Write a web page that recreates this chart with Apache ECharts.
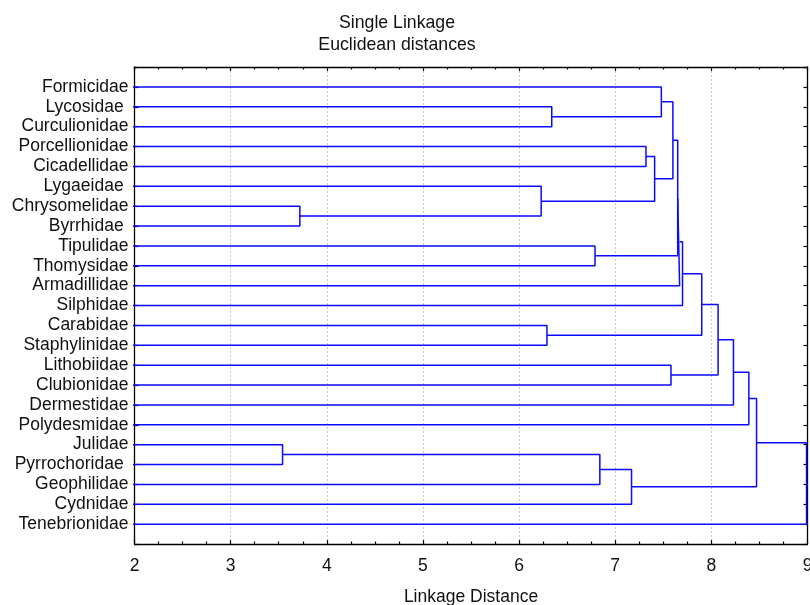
<!DOCTYPE html>
<html>
<head>
<meta charset="utf-8">
<title>Single Linkage</title>
<script src="https://cdn.jsdelivr.net/npm/echarts@6/dist/echarts.min.js"></script>
<style>
  html, body { margin: 0; padding: 0; background: #fff; }
  #chart { width: 810px; height: 605px; }
</style>
</head>
<body>
<div id="chart"></div>
<script>
// leaves, top to bottom (some labels carry a trailing space in the original)
const leafNames = [
  'Formicidae', 'Lycosidae ', 'Curculionidae', 'Porcellionidae', 'Cicadellidae',
  'Lygaeidae ', 'Chrysomelidae', 'Byrrhidae ', 'Tipulidae', 'Thomysidae',
  'Armadillidae', 'Silphidae', 'Carabidae', 'Staphylinidae', 'Lithobiidae',
  'Clubionidae', 'Dermestidae', 'Polydesmidae', 'Julidae', 'Pyrrochoridae ',
  'Geophilidae', 'Cydnidae', 'Tenebrionidae',
];

// merge steps: ids 0..22 are leaves, each merge k makes cluster 23 + k
const mergeLeft = [18, 6, 5, 12, 1, 8, 23, 29, 3, 31, 0, 14, 33, 35, 36, 37, 38, 39, 40, 41, 42, 43];
const mergeRight = [19, 7, 24, 13, 2, 9, 20, 21, 4, 25, 27, 15, 32, 28, 10, 11, 26, 34, 16, 17, 30, 22];
const mergeHeight = [3.54, 3.72, 6.23, 6.29, 6.34, 6.79, 6.84, 7.17, 7.32, 7.41, 7.48, 7.58,
  7.60, 7.65, 7.67, 7.70, 7.90, 8.07, 8.23, 8.39, 8.47, 8.99];

const xTicks = [2, 3, 4, 5, 6, 7, 8, 9];

const font = "'Liberation Sans', Arial, sans-serif";
const lineColor = '#0a0aff';

// height and vertical position of every node
const nodeHeight = leafNames.map(() => 0);
const nodePos = leafNames.map((_, i) => i);

const series = [];
mergeHeight.forEach((h, k) => {
  const a = mergeLeft[k];
  const b = mergeRight[k];
  nodeHeight.push(h);
  nodePos.push((nodePos[a] + nodePos[b]) / 2);
  series.push({
    type: 'line',
    data: [
      [nodeHeight[a], nodePos[a]],
      [h, nodePos[a]],
      [h, nodePos[b]],
      [nodeHeight[b], nodePos[b]],
    ],
    showSymbol: false,
    symbol: 'none',
    clip: true,
    silent: true,
    lineStyle: { color: lineColor, width: 1.5 },
  });
});

const mychart = echarts.init(document.getElementById('chart'), null, { renderer: 'canvas' });

const axisLine = { show: true, onZero: false, lineStyle: { color: '#000', width: 1.3 } };
const tickStyle = { color: '#000', width: 1.2 };

const option = {
  animation: false,
  backgroundColor: '#fff',
  title: {
    text: 'Single Linkage\nEuclidean distances',
    left: 392,
    top: 7,
    textAlign: 'center',
    textStyle: {
      fontFamily: font,
      fontSize: 17.7,
      fontWeight: 'normal',
      color: '#111',
      lineHeight: 22,
    },
  },
  grid: { left: 134.5, right: 2.5, top: 67, bottom: 61, outerBoundsMode: 'none', containLabel: false },
  xAxis: [
    {
      type: 'value',
      position: 'bottom',
      min: xTicks[0],
      max: xTicks[xTicks.length - 1],
      interval: 1,
      name: 'Linkage Distance',
      nameLocation: 'middle',
      nameGap: 44,
      nameTextStyle: { fontFamily: font, fontSize: 17.5, color: '#111' },
      axisLine: axisLine,
      axisTick: { show: true, inside: true, length: 4, lineStyle: tickStyle },
      minorTick: { show: true, splitNumber: 4, length: 2.5, lineStyle: tickStyle },
      axisLabel: { margin: 13, fontFamily: font, fontSize: 17.5, color: '#111', hideOverlap: false },
      splitLine: { show: true, lineStyle: { color: '#c8c8c8', type: [2, 2], width: 1 } },
    },
    {
      type: 'value',
      position: 'top',
      min: xTicks[0],
      max: xTicks[xTicks.length - 1],
      interval: 1,
      axisLine: axisLine,
      axisTick: { show: true, inside: true, length: 4, lineStyle: tickStyle },
      minorTick: { show: true, splitNumber: 4, length: 2.5, lineStyle: tickStyle },
      axisLabel: { show: false },
      splitLine: { show: false },
    },
  ],
  yAxis: [
    {
      type: 'value',
      position: 'left',
      inverse: true,
      min: -1,
      max: leafNames.length,
      interval: 1,
      axisLine: axisLine,
      axisTick: { show: true, inside: true, length: 4, lineStyle: tickStyle },
      axisLabel: {
        margin: 6,
        fontFamily: font,
        fontSize: 17.5,
        color: '#111',
        formatter: (v) => leafNames[v] || '',
      },
      splitLine: { show: false },
    },
    {
      type: 'value',
      position: 'right',
      inverse: true,
      min: -1,
      max: leafNames.length,
      interval: 1,
      axisLine: axisLine,
      axisTick: { show: true, inside: true, length: 4, lineStyle: tickStyle },
      axisLabel: { show: false },
      splitLine: { show: false },
    },
  ],
  series: series,
};

mychart.setOption(option);

window.addEventListener('resize', () => {
  mychart.resize();
});
</script>
</body>
</html>
